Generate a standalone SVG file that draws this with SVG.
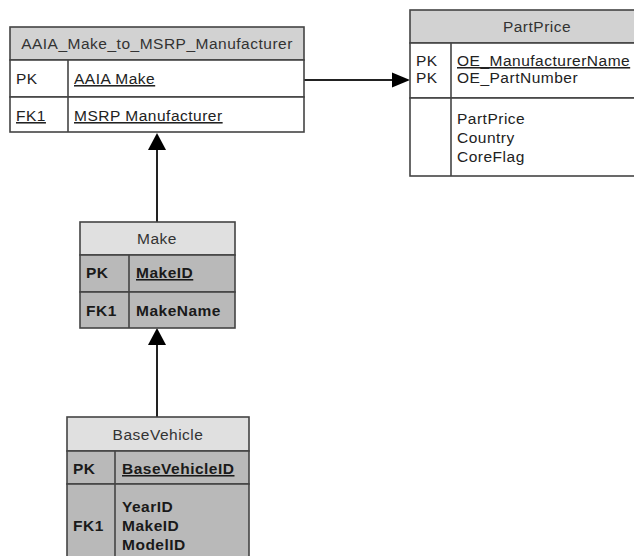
<svg xmlns="http://www.w3.org/2000/svg" width="634" height="556" viewBox="0 0 634 556">
  <style>
    text { font-family: "Liberation Sans", Arial, sans-serif; font-size: 15.5px; letter-spacing: 0.5px; fill: #222; }
    .title { text-anchor: middle; fill: #333; }
    .b { font-weight: bold; fill: #1a1a1a; }
    .u { text-decoration: underline; }
    .box { stroke: #444; stroke-width: 1.6; }
    .line { stroke: #444; stroke-width: 1.6; fill: none; }
    .hdr { fill: #d2d2d2; }
    .hdr2 { fill: #e0e0e0; }
    .row { fill: #ffffff; }
    .row2 { fill: #b9b9b9; }
    .conn { stroke: #222; stroke-width: 2; fill: none; }
  </style>
  <rect width="634" height="556" fill="#fff"/>

  <g id="connectors">
    <line class="conn" x1="304" y1="80" x2="392" y2="80"/>
    <path d="M392,72.5 L410,80 L392,87.5 z" fill="#000"/>
    <line class="conn" x1="157" y1="222" x2="157" y2="150"/>
    <path d="M148,150 L157,133 L166,150 z" fill="#000"/>
    <line class="conn" x1="157" y1="417" x2="157" y2="345"/>
    <path d="M148,345 L157,328 L166,345 z" fill="#000"/>
  </g>

  <g id="aaia">
    <rect class="box hdr" x="10" y="27" width="294" height="33"/>
    <rect class="box row" x="10" y="60" width="294" height="37"/>
    <rect class="box row" x="10" y="97" width="294" height="35"/>
    <line class="line" x1="68" y1="60" x2="68" y2="132"/>
    <text class="title" x="157" y="49">AAIA_Make_to_MSRP_Manufacturer</text>
    <text x="16" y="84">PK</text>
    <text class="u" x="74" y="84">AAIA Make</text>
    <text class="u" x="16" y="121">FK1</text>
    <text class="u" x="74" y="121">MSRP Manufacturer</text>
  </g>

  <g id="partprice">
    <rect class="box hdr" x="410" y="10" width="260" height="33"/>
    <rect class="box row" x="410" y="43" width="260" height="55"/>
    <rect class="box row" x="410" y="98" width="260" height="78"/>
    <line class="line" x1="451" y1="43" x2="451" y2="176"/>
    <text class="title" x="537" y="32">PartPrice</text>
    <text x="416" y="66">PK</text>
    <text x="416" y="83">PK</text>
    <text class="u" x="457" y="66">OE_ManufacturerName</text>
    <text x="457" y="83">OE_PartNumber</text>
    <text x="457" y="124">PartPrice</text>
    <text x="457" y="143">Country</text>
    <text x="457" y="162">CoreFlag</text>
  </g>

  <g id="make">
    <rect class="box hdr2" x="80" y="222" width="155" height="33"/>
    <rect class="box row2" x="80" y="255" width="155" height="37"/>
    <rect class="box row2" x="80" y="292" width="155" height="36"/>
    <line class="line" x1="129" y1="255" x2="129" y2="328"/>
    <text class="title" x="157" y="244">Make</text>
    <text class="b" x="86" y="278">PK</text>
    <text class="b u" x="136" y="278">MakeID</text>
    <text class="b" x="86" y="316">FK1</text>
    <text class="b" x="136" y="316">MakeName</text>
  </g>

  <g id="basevehicle">
    <rect class="box hdr2" x="67" y="417" width="182" height="34"/>
    <rect class="box row2" x="67" y="451" width="182" height="33"/>
    <rect class="box row2" x="67" y="484" width="182" height="90"/>
    <line class="line" x1="115" y1="451" x2="115" y2="574"/>
    <text class="title" x="158" y="440">BaseVehicle</text>
    <text class="b" x="73" y="474">PK</text>
    <text class="b u" x="122" y="474">BaseVehicleID</text>
    <text class="b" x="73" y="531">FK1</text>
    <text class="b" x="122" y="512">YearID</text>
    <text class="b" x="122" y="531">MakeID</text>
    <text class="b" x="122" y="550">ModelID</text>
  </g>
</svg>
